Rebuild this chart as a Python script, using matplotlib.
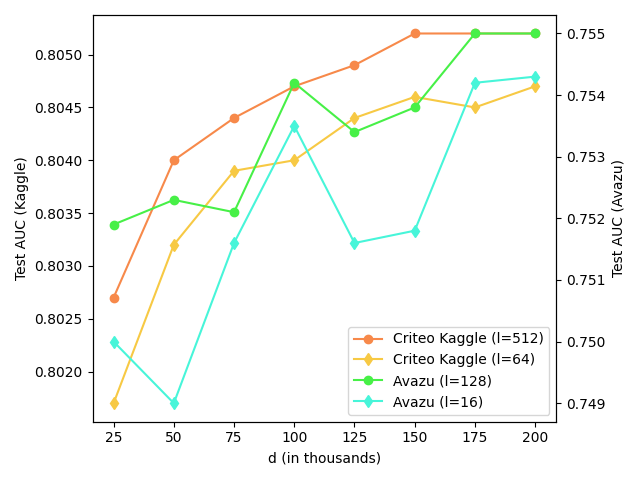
import matplotlib
matplotlib.use("Agg")
import matplotlib.pyplot as plt

d = [25, 50, 75, 100, 125, 150, 175, 200]
kaggle_512 = [0.8027, 0.8040, 0.8044, 0.8047, 0.8049, 0.8052, 0.8052, 0.8052]
kaggle_64 = [0.8017, 0.8032, 0.8039, 0.8040, 0.8044, 0.8046, 0.8045, 0.8047]
avazu_128 = [0.7519, 0.7523, 0.7521, 0.7542, 0.7534, 0.7538, 0.7550, 0.7550]
avazu_16 = [0.7500, 0.7490, 0.7516, 0.7535, 0.7516, 0.7518, 0.7542, 0.7543]

c_orange = "#f7894a"
c_yellow = "#f7c944"
c_green = "#47f047"
c_cyan = "#47f5d9"

fig, ax1 = plt.subplots(figsize=(6.4, 4.8), dpi=100)
ax2 = ax1.twinx()

l1, = ax1.plot(d, kaggle_512, marker="o", color=c_orange, label="Criteo Kaggle (l=512)")
l2, = ax1.plot(d, kaggle_64, marker="d", color=c_yellow, label="Criteo Kaggle (l=64)")
l3, = ax2.plot(d, avazu_128, marker="o", color=c_green, label="Avazu (l=128)")
l4, = ax2.plot(d, avazu_16, marker="d", color=c_cyan, label="Avazu (l=16)")

ax1.set_xlabel("d (in thousands)")
ax1.set_ylabel("Test AUC (Kaggle)")
ax2.set_ylabel("Test AUC (Avazu)")
ax1.set_xticks(d)

ax2.legend(handles=[l1, l2, l3, l4], loc="lower right")
fig.tight_layout()
fig.savefig("out.png")
